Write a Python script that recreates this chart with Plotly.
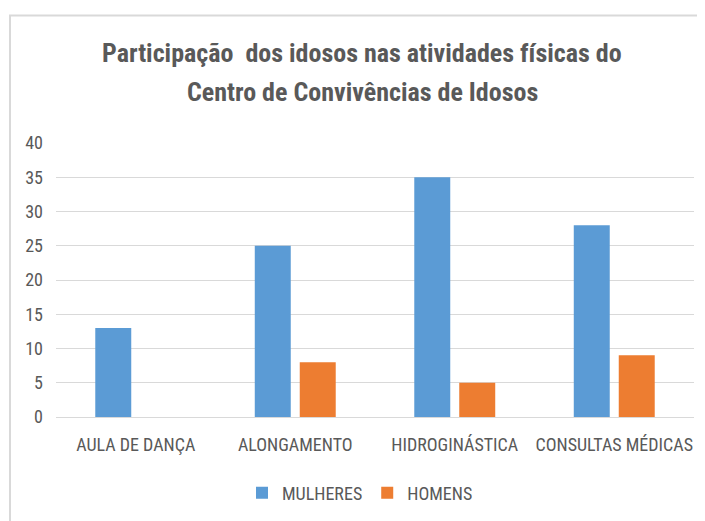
import plotly.graph_objects as go

categories = ["AULA DE DANÇA", "ALONGAMENTO", "HIDROGINÁSTICA", "CONSULTAS MÉDICAS"]
mulheres = [13, 25, 35, 28]
homens = [0, 8, 5, 9]
y_ticks = [0, 5, 10, 15, 20, 25, 30, 35, 40]
title_lines = ["Participação  dos idosos nas atividades físicas do",
               "Centro de Convivências de Idosos"]

FONT = "Liberation Sans Narrow, Arial Narrow, Roboto Condensed, sans-serif"
GRAY = "#595959"

OFF = 8  # page body margin in the browser
W, H = 705 - OFF, 521 - OFF
L = 56 - OFF
R = 705 - 694
T = 143 - OFF
B = H - (418 - OFF)
pw, ph = W - L - R, H - T - B

def px_x(x):
    return (x - OFF - L) / pw

def px_y(y):
    return (H - B - (y - OFF)) / ph

fig = go.Figure()
fig.add_trace(go.Bar(name="MULHERES", x=categories, y=mulheres,
                     marker=dict(color="#5b9bd5", line=dict(width=0))))
fig.add_trace(go.Bar(name="HOMENS", x=categories, y=homens,
                     marker=dict(color="#ed7d31", line=dict(width=0))))

fig.update_layout(
    width=W, height=H,
    margin=dict(l=L, r=R, t=T, b=B),
    paper_bgcolor="white", plot_bgcolor="white",
    barmode="group", bargap=0.436, bargroupgap=0.2,
    font=dict(family=FONT, color=GRAY, size=18),
    showlegend=True,
    legend=dict(orientation="h", x=px_x(360), y=px_y(493),
                xanchor="center", yanchor="middle",
                font=dict(size=18, color=GRAY, family=FONT),
                itemwidth=30, traceorder="normal"),
    xaxis=dict(showgrid=False, showline=True, linecolor="#d9d9d9", linewidth=1,
               ticks="", tickfont=dict(size=18, color=GRAY, family=FONT),
               ticklabelstandoff=11),
    yaxis=dict(range=[0, 40], tickvals=y_ticks, showgrid=True,
               gridcolor="#d9d9d9", gridwidth=1, zeroline=False,
               showline=False, ticks="",
               tickfont=dict(size=18, color=GRAY, family=FONT),
               ticklabelstandoff=12),
)

for txt, yc in zip(title_lines, [53, 92]):
    fig.add_annotation(text="<b>" + txt + "</b>", xref="paper", yref="paper",
                       x=px_x(362), y=px_y(yc), xanchor="center", yanchor="middle",
                       showarrow=False,
                       font=dict(size=26, color=GRAY, family=FONT))

fig.add_shape(type="rect", xref="paper", yref="paper",
              x0=px_x(10), x1=px_x(730), y0=px_y(560), y1=px_y(15),
              line=dict(color="#d9d9d9", width=2), fillcolor="rgba(0,0,0,0)",
              layer="below")

fig.write_html("out.html")
